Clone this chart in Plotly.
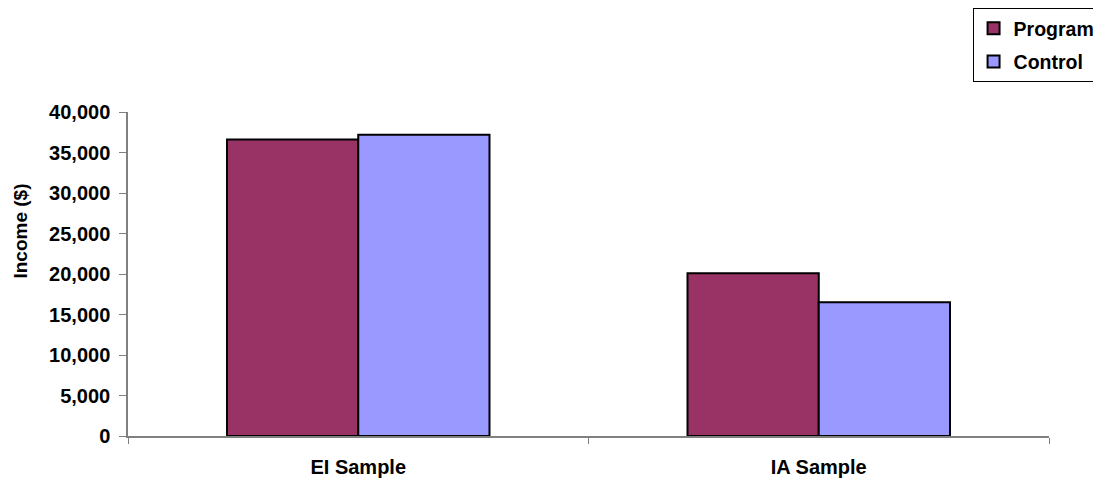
import plotly.graph_objects as go

categories = ["EI Sample", "IA Sample"]
program = [36600, 20100]
control = [37200, 16500]
y_ticks = [0, 5000, 10000, 15000, 20000, 25000, 30000, 35000, 40000]
y_title = "Income ($)"

FONT = "Liberation Sans, Arial, sans-serif"

fig = go.Figure()
fig.add_trace(go.Bar(name="Program", x=categories, y=program, legendgroup="p",
                     marker=dict(color="#993366", line=dict(color="black", width=2))))
fig.add_trace(go.Bar(name="Control", x=categories, y=control, legendgroup="c",
                     marker=dict(color="#9999FF", line=dict(color="black", width=2))))

fig.update_layout(
    width=1101, height=481,
    margin=dict(l=120, r=60, t=104, b=53, autoexpand=False),
    paper_bgcolor="white", plot_bgcolor="white",
    barmode="group", bargap=0.43, bargroupgap=0,
    font=dict(family=FONT, size=20, color="black", weight="bold"),
    legend=dict(x=0.917, y=1.321, xanchor="left", yanchor="top",
                bordercolor="black", borderwidth=1, bgcolor="white",
                font=dict(family=FONT, size=19.5, color="black", weight="bold"),
                traceorder="grouped", itemwidth=30, tracegroupgap=5),
    showlegend=True,
)
fig.add_annotation(text=y_title, textangle=-90, xref="paper", yref="paper",
                   x=-0.1178, y=0.6327, xanchor="center", yanchor="middle",
                   showarrow=False,
                   font=dict(family=FONT, size=19, color="black", weight="bold"))
fig.update_xaxes(showline=True, linecolor="#808080", linewidth=2, automargin=False,
                 ticks="outside", tickson="boundaries", ticklen=6, tickcolor="#808080",
                 ticklabelstandoff=12, showgrid=False,
                 tickfont=dict(family=FONT, size=20, color="black", weight="bold"))
fig.update_yaxes(range=[0, 40000], tickvals=y_ticks, tickformat=",", automargin=False,
                 showline=True, linecolor="#808080", linewidth=1.5,
                 ticks="outside", ticklen=7, tickcolor="#808080",
                 ticklabelstandoff=5, showgrid=False, zeroline=False,
                 tickfont=dict(family=FONT, size=20, color="black", weight="bold"))

fig.write_html("out.html")
